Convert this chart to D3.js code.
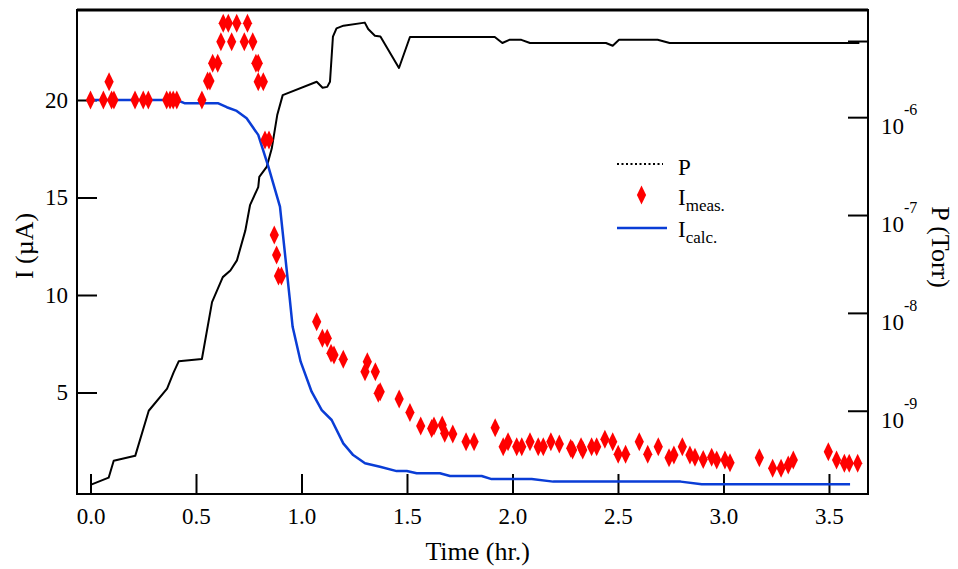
<!DOCTYPE html>
<html>
<head>
<meta charset="utf-8">
<script src="https://cdn.jsdelivr.net/npm/d3@7"></script>
<style>
  html, body { margin: 0; padding: 0; background: #fff; }
  svg text { font-family: "Liberation Serif", "Times New Roman", serif; fill: #000; }
</style>
</head>
<body>
<svg id="chart" width="958" height="569"></svg>
<script>
// Time axis ticks (hr.)
const timeTicks = [0, 0.5, 1.0, 1.5, 2.0, 2.5, 3.0, 3.5];
// Current axis ticks (µA)
const currentTicks = [5, 10, 15, 20];
// Pressure axis ticks (Torr); the topmost one carries no label
const pressureTicks = [1e-9, 1e-8, 1e-7, 1e-6, 6e-6];
const pressureTickExp = ["-9", "-8", "-7", "-6", null];

// Chamber pressure P (Torr) vs time
const pTime = [0.0, 0.086, 0.110, 0.212, 0.276, 0.363, 0.394, 0.418, 0.528, 0.576,
  0.627, 0.663, 0.694, 0.734, 0.756, 0.795, 0.800, 0.835, 0.859, 0.885,
  0.911, 1.072, 1.100, 1.122, 1.135, 1.149, 1.166, 1.199, 1.300, 1.316,
  1.348, 1.374, 1.462, 1.514, 1.916, 1.952, 1.985, 2.042, 2.083, 2.443,
  2.475, 2.505, 2.688, 2.745, 3.644];
const pTorr = [1.75e-10, 2.07e-10, 3.08e-10, 3.46e-10, 1.0e-9, 1.68e-9, 2.47e-9, 3.2e-9, 3.38e-9, 1.29e-8,
  2.32e-8, 2.71e-8, 3.44e-8, 6.97e-8, 1.26e-7, 1.93e-7, 2.45e-7, 3.10e-7, 4.78e-7, 1.05e-6,
  1.68e-6, 2.30e-6, 2.0e-6, 2.04e-6, 2.30e-6, 6.64e-6, 8.09e-6, 8.61e-6, 9.25e-6, 7.96e-6,
  6.79e-6, 6.67e-6, 3.18e-6, 6.59e-6, 6.59e-6, 5.73e-6, 6.17e-6, 6.17e-6, 5.73e-6, 5.73e-6,
  5.37e-6, 6.17e-6, 6.17e-6, 5.73e-6, 5.73e-6];

// Calculated current I_calc (µA)
const calcTime = [0, 0.409, 0.448, 0.606, 0.646, 0.693, 0.740, 0.795, 0.843, 0.898,
  0.945, 0.958, 0.996, 1.048, 1.096, 1.143, 1.198, 1.245, 1.301, 1.372,
  1.451, 1.499, 1.546, 1.656, 1.704, 1.854, 1.901, 2.091, 2.193, 2.797,
  2.897, 3.600];
const calcCurrent = [20.0, 20.0, 19.83, 19.83, 19.63, 19.44, 19.06, 18.21, 16.58, 14.53,
  9.74, 8.37, 6.58, 5.04, 4.10, 3.59, 2.39, 1.79, 1.37, 1.19,
  0.97, 0.97, 0.86, 0.86, 0.72, 0.72, 0.56, 0.56, 0.43, 0.43,
  0.29, 0.29];

// Measured current I_meas (µA)
const measTime = [0.0, 0.061, 0.088, 0.100, 0.111, 0.211, 0.250, 0.274, 0.361, 0.377,
  0.392, 0.409, 0.528, 0.555, 0.566, 0.579, 0.603, 0.618, 0.629, 0.653,
  0.669, 0.693, 0.729, 0.744, 0.769, 0.784, 0.795, 0.795, 0.819, 0.827,
  0.846, 0.871, 0.882, 0.891, 0.905, 1.072, 1.099, 1.122, 1.140, 1.154,
  1.198, 1.301, 1.312, 1.350, 1.364, 1.373, 1.463, 1.514, 1.565, 1.617,
  1.628, 1.667, 1.679, 1.717, 1.780, 1.818, 1.918, 1.956, 1.979, 2.020,
  2.044, 2.083, 2.122, 2.146, 2.182, 2.222, 2.276, 2.285, 2.325, 2.333,
  2.375, 2.399, 2.438, 2.475, 2.501, 2.536, 2.601, 2.641, 2.691, 2.742,
  2.765, 2.805, 2.841, 2.865, 2.904, 2.944, 2.968, 3.007, 3.031, 3.170,
  3.233, 3.273, 3.307, 3.331, 3.497, 3.536, 3.573, 3.596, 3.636];
const measCurrent = [20.0, 20.0, 20.94, 20.0, 20.0, 20.0, 20.0, 20.0, 20.0, 20.0,
  20.0, 20.0, 20.0, 20.97, 20.97, 21.88, 21.88, 22.99, 23.93, 23.93,
  22.99, 23.93, 22.99, 23.93, 22.99, 21.88, 21.88, 20.94, 20.94, 17.95,
  17.95, 13.08, 12.05, 10.97, 10.97, 8.63, 7.78, 7.78, 7.01, 6.92,
  6.70, 6.07, 6.58, 6.07, 4.96, 5.04, 4.67, 3.98, 3.28, 3.16,
  3.28, 3.33, 2.91, 2.87, 2.48, 2.48, 3.19, 2.22, 2.48, 2.22,
  2.22, 2.48, 2.22, 2.22, 2.48, 2.36, 2.14, 2.05, 2.22, 2.05,
  2.22, 2.22, 2.60, 2.48, 1.83, 1.83, 2.48, 1.83, 2.22, 1.66,
  1.79, 2.22, 1.79, 1.68, 1.57, 1.68, 1.54, 1.54, 1.40, 1.66,
  1.11, 1.11, 1.28, 1.54, 1.96, 1.54, 1.37, 1.37, 1.37];

const svg = d3.select("#chart");
const plotLeft = 77, plotRight = 868, plotTop = 10, plotBottom = 494;
const fontSize = 23;
const titleSize = 26;

const x = d3.scaleLinear().domain([-0.064, 3.685]).range([plotLeft, plotRight]);
const yI = d3.scaleLinear().domain([-0.205, 24.615]).range([plotBottom, plotTop]);
const yP = d3.scaleLog().domain([1.41e-10, 1.245e-5]).range([plotBottom, plotTop]);

const black = "#000", blue = "#0a3dd6", red = "#ff0000";

// Bottom axis
const gx = svg.append("g").attr("transform", `translate(0,${plotBottom})`)
  .call(d3.axisBottom(x).tickValues(timeTicks).tickFormat(d3.format(".1f"))
    .tickSize(-20).tickPadding(14));
// Left axis
const gy = svg.append("g").attr("transform", `translate(${plotLeft},0)`)
  .call(d3.axisLeft(yI).tickValues(currentTicks).tickFormat(d3.format("d"))
    .tickSize(-20).tickPadding(9));
// Right axis
const gp = svg.append("g").attr("transform", `translate(${plotRight},0)`)
  .call(d3.axisRight(yP).tickValues(pressureTicks).tickFormat(() => "")
    .tickSize(-20));

[gx, gy, gp].forEach(g => {
  g.select(".domain").remove();
  g.selectAll(".tick line").attr("stroke", black).attr("stroke-width", 2);
  g.selectAll(".tick text").attr("font-size", fontSize)
    .attr("font-family", "'Liberation Serif', 'Times New Roman', serif").attr("fill", black);
});

// Pressure labels as powers of ten
pressureTicks.forEach((v, i) => {
  if (!pressureTickExp[i]) return;
  const t = svg.append("text").attr("x", plotRight + 13).attr("y", yP(v) + 17)
    .attr("font-size", fontSize);
  t.append("tspan").text("10");
  t.append("tspan").attr("font-size", 16).attr("dy", -19).text(pressureTickExp[i]);
});

// Frame
svg.append("rect").attr("x", plotLeft).attr("y", plotTop)
  .attr("width", plotRight - plotLeft).attr("height", plotBottom - plotTop)
  .attr("fill", "none").attr("stroke", black).attr("stroke-width", 2);
svg.append("line").attr("x1", plotLeft).attr("x2", plotRight).attr("y1", plotTop).attr("y2", plotTop)
  .attr("stroke", black).attr("stroke-width", 3);

// Pressure curve
const pLine = d3.line().x((d, i) => x(pTime[i])).y(d => yP(d));
svg.append("path").datum(pTorr).attr("d", pLine)
  .attr("fill", "none").attr("stroke", black).attr("stroke-width", 2)
  .attr("stroke-linejoin", "round");

// Calculated current
const cLine = d3.line().x((d, i) => x(calcTime[i])).y(d => yI(d));
svg.append("path").datum(calcCurrent).attr("d", cLine)
  .attr("fill", "none").attr("stroke", blue).attr("stroke-width", 2.5)
  .attr("stroke-linejoin", "round");

// Measured current markers (tall diamonds)
const diamond = "M0,-9.5L4.6,0L0,9.5L-4.6,0Z";
svg.append("g").selectAll("path").data(measCurrent).join("path")
  .attr("d", diamond)
  .attr("transform", (d, i) => `translate(${x(measTime[i])},${yI(d)})`)
  .attr("fill", red);

// Axis titles
svg.append("text").attr("x", x(1.835)).attr("y", 560)
  .attr("text-anchor", "middle").attr("font-size", titleSize).text("Time (hr.)");
svg.append("text").attr("transform", `translate(33,246) rotate(-90)`)
  .attr("text-anchor", "middle").attr("font-size", titleSize).text("I (µA)");
svg.append("text").attr("transform", `translate(932,247) rotate(90)`)
  .attr("text-anchor", "middle").attr("font-size", titleSize).text("P (Torr)");

// Legend
const lg = svg.append("g");
lg.append("line").attr("x1", 617).attr("x2", 663).attr("y1", 164).attr("y2", 164)
  .attr("stroke", black).attr("stroke-width", 2).attr("stroke-dasharray", "2,2.5");
lg.append("text").attr("x", 678).attr("y", 175).attr("font-size", fontSize).text("P");
lg.append("path").attr("d", diamond).attr("transform", "translate(641.5,195)").attr("fill", red);
const tm = lg.append("text").attr("x", 678).attr("y", 205).attr("font-size", fontSize);
tm.append("tspan").text("I");
tm.append("tspan").attr("font-size", 17).attr("dy", 6).text("meas.");
lg.append("line").attr("x1", 617).attr("x2", 667).attr("y1", 228).attr("y2", 228)
  .attr("stroke", blue).attr("stroke-width", 2.5);
const tc = lg.append("text").attr("x", 678).attr("y", 237).attr("font-size", fontSize);
tc.append("tspan").text("I");
tc.append("tspan").attr("font-size", 17).attr("dy", 6).text("calc.");
</script>
</body>
</html>
